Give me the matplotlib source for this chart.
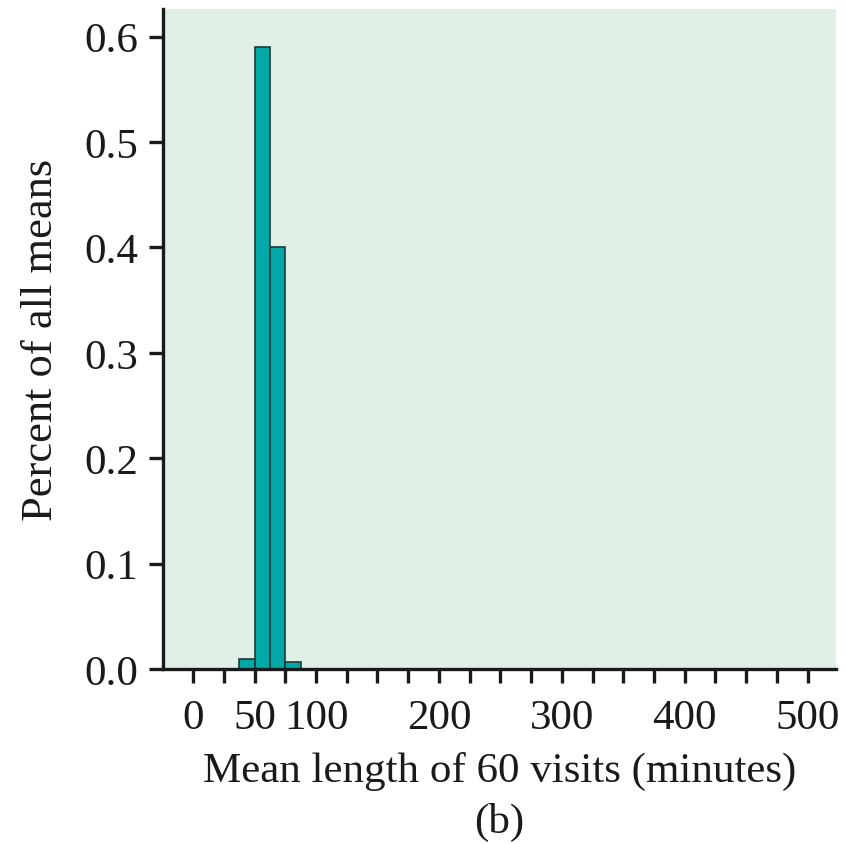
import matplotlib
matplotlib.use("Agg")
import matplotlib.pyplot as plt
import numpy as np

plt.rcParams["font.family"] = ["Liberation Serif", "DejaVu Serif"]

# histogram of sample means (n = 60)
bin_edges = [37.5, 50.0, 62.5, 75.0, 87.5]
percents = [0.010, 0.590, 0.400, 0.007]

x_ticks = np.arange(0, 501, 25)
x_label_pos = [0, 50, 100, 200, 300, 400, 500]
y_ticks = [0.0, 0.1, 0.2, 0.3, 0.4, 0.5, 0.6]

fig = plt.figure(figsize=(8.46, 8.45), dpi=100)
ax = fig.add_axes([0.1927, 0.207, 0.7953, 0.781])
ax.set_facecolor("#e1f0e6")

widths = np.diff(bin_edges)
ax.bar(bin_edges[:-1], percents, width=widths, align="edge",
       color="#00a9a8", edgecolor="#1e3a3a", linewidth=1.2, zorder=2)

ax.set_xlim(-24.5, 523)
ax.set_ylim(0, 0.626)

ax.set_xticks(x_ticks)
ax.set_xticklabels([str(int(t)) if t in x_label_pos else "" for t in x_ticks])
ax.set_yticks(y_ticks)
ax.set_yticklabels([f"{v:.1f}" for v in y_ticks])

for s in ["top", "right"]:
    ax.spines[s].set_visible(False)
for s in ["left", "bottom"]:
    ax.spines[s].set_linewidth(2.4)
    ax.spines[s].set_color("#1a1a1a")

ax.tick_params(axis="both", direction="out", length=10, width=2.4,
               color="#1a1a1a", labelsize=31, labelcolor="#1a1a1a")
ax.tick_params(axis="x", pad=11)
ax.tick_params(axis="y", pad=8)

ax.set_ylabel("Percent of all means", fontsize=32, color="#1a1a1a", labelpad=17)
ax.set_xlabel("Mean length of 60 visits (minutes)\n(b)", fontsize=31,
              color="#1a1a1a", labelpad=10, linespacing=1.4)

fig.savefig("out.png", dpi=100, facecolor="white")
